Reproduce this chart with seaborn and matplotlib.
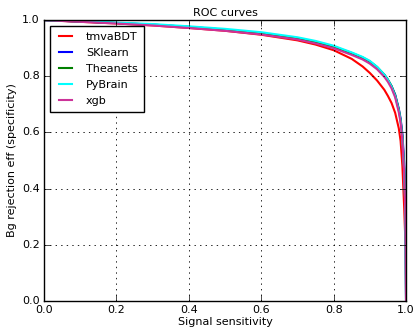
import matplotlib
matplotlib.use("Agg")
import matplotlib.pyplot as plt
import pandas as pd
import seaborn as sns

# Signal efficiency (x) and background rejection (y) for each classifier
sig_eff = [0.0, 0.1, 0.2, 0.3, 0.4, 0.5, 0.6, 0.7, 0.75, 0.8, 0.85, 0.88, 0.9, 0.92,
           0.94, 0.95, 0.96, 0.97, 0.98, 0.985, 0.99, 0.995, 0.998, 1.0]

tmva_bdt = [1.0, 0.994, 0.988, 0.981, 0.972, 0.962, 0.948, 0.928, 0.913, 0.893, 0.862,
            0.835, 0.812, 0.785, 0.752, 0.73, 0.705, 0.67, 0.615, 0.57, 0.48, 0.33, 0.22, 0.20]
sklearn = [1.0, 0.995, 0.990, 0.984, 0.976, 0.966, 0.953, 0.935, 0.922, 0.905, 0.882,
           0.866, 0.852, 0.832, 0.805, 0.787, 0.765, 0.735, 0.685, 0.65, 0.595, 0.49, 0.36, 0.0]
theanets = [1.0, 0.995, 0.990, 0.984, 0.976, 0.966, 0.953, 0.936, 0.923, 0.906, 0.883,
            0.867, 0.853, 0.833, 0.806, 0.788, 0.765, 0.733, 0.682, 0.645, 0.585, 0.47, 0.34, 0.0]
pybrain = [1.0, 0.996, 0.991, 0.986, 0.978, 0.969, 0.957, 0.939, 0.926, 0.909, 0.885,
           0.869, 0.855, 0.834, 0.806, 0.787, 0.763, 0.73, 0.678, 0.64, 0.575, 0.46, 0.33, 0.0]
xgb = [1.0, 0.994, 0.988, 0.981, 0.972, 0.962, 0.949, 0.931, 0.917, 0.900, 0.876,
       0.860, 0.845, 0.825, 0.798, 0.78, 0.757, 0.725, 0.672, 0.635, 0.57, 0.455, 0.33, 0.0]

names = ["tmvaBDT", "SKlearn", "Theanets", "PyBrain", "xgb"]
colors = ["#ff0000", "#0000ff", "#008000", "#00ffff", "#cc3399"]

rows = []
for name, vals in zip(names, [tmva_bdt, sklearn, theanets, pybrain, xgb]):
    for s, b in zip(sig_eff, vals):
        rows.append({"sig": s, "bg": b, "clf": name})
df = pd.DataFrame(rows)

plt.style.use("classic")
plt.rcParams["figure.facecolor"] = "white"
plt.rcParams["font.size"] = 8

fig, ax = plt.subplots(figsize=(4.16, 3.30), dpi=100)
fig.subplots_adjust(left=0.106, right=0.976, top=0.939, bottom=0.088)

sns.lineplot(data=df, x="sig", y="bg", hue="clf", palette=colors,
             sort=False, estimator=None, linewidth=1.5, ax=ax)

ax.set_xlim(0, 1)
ax.set_ylim(0, 1)
ax.set_xlabel("Signal sensitivity", fontsize=8, labelpad=1)
ax.set_ylabel("Bg rejection eff (specificity)", fontsize=8, labelpad=4)
ax.set_title("ROC curves", fontsize=8, pad=3)
ax.tick_params(labelsize=8, pad=3)
ax.grid(True, linestyle=":", color="black", linewidth=0.6)
ax.legend(loc="upper left", fontsize=8, handlelength=1.8, handletextpad=0.9,
          borderpad=0.55, labelspacing=0.55, fancybox=False, title=None)

fig.savefig("out.png", dpi=100)
